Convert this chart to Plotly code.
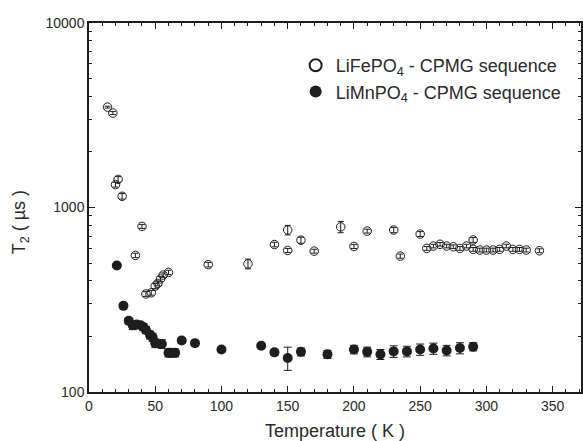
import plotly.graph_objects as go

# LiFePO4 - CPMG sequence (open circles)
fe_T = [14, 18, 20, 22, 25, 35, 40, 43, 47, 50, 52, 54, 56, 60, 90, 120, 140, 150, 150,
        160, 170, 190, 200, 210, 230, 235, 250,
        255, 260, 265, 270, 275, 280, 285, 290, 290, 295, 300, 305, 310, 315, 320, 325, 330, 340]
fe_T2 = [3500, 3250, 1330, 1420, 1150, 550, 790, 340, 345, 375, 388, 410, 430, 445, 490, 495, 630, 755, 585,
         665, 580, 785, 615, 745, 755, 545, 718,
         600, 618, 632, 618, 613, 600, 618, 667, 593, 588, 588, 588, 593, 618, 593, 593, 588, 583]
fe_err = [40, 60, 40, 50, 40, 15, 20, 10, 10, 12, 12, 12, 12, 12, 14, 30, 18, 45, 15,
          25, 14, 55, 16, 18, 25, 14, 22,
          14, 14, 14, 14, 14, 14, 14, 20, 14, 14, 14, 14, 14, 14, 14, 14, 14, 14]

# LiMnPO4 - CPMG sequence (filled circles)
mn_T = [21, 26, 30, 33, 36, 39, 41, 43, 46, 48, 50, 55, 60, 62, 65, 70, 80, 100, 130, 140,
        150, 160, 180, 200, 210, 220, 230, 240, 250, 260, 270, 280, 290]
mn_T2 = [485, 293, 243, 230, 232, 230, 225, 217, 204, 198, 184, 182, 163, 163, 163, 190, 184, 170, 178, 164,
         153, 165, 160, 170, 165, 160, 166, 166, 170, 172, 168, 173, 176]
mn_err = [8, 6, 8, 12, 8, 8, 10, 10, 10, 10, 10, 10, 8, 8, 8, 6, 5, 5, 5, 6,
          22, 8, 8, 9, 10, 10, 12, 11, 12, 12, 11, 12, 9]

x_ticks = [0, 50, 100, 150, 200, 250, 300, 350]
y_ticks = [100, 1000, 10000]
y_minor = [v * m for m in (100, 1000) for v in range(2, 10)]

INK = "#1e1e1e"
FONT = "Liberation Sans, Arial, sans-serif"

fig = go.Figure()
fig.add_trace(go.Scatter(
    x=fe_T, y=fe_T2, mode="markers",
    name="LiFePO<sub>4</sub> - CPMG sequence",
    marker=dict(symbol="circle-open", size=8.5, color=INK, line=dict(width=1, color=INK)),
    error_y=dict(type="data", array=fe_err, color=INK, thickness=1, width=3),
))
fig.add_trace(go.Scatter(
    x=mn_T, y=mn_T2, mode="markers",
    name="LiMnPO<sub>4</sub> - CPMG sequence",
    marker=dict(symbol="circle", size=10, color=INK),
    error_y=dict(type="data", array=mn_err, color=INK, thickness=1, width=4),
))

axis_common = dict(
    showline=True, linecolor=INK, linewidth=1.5, mirror="ticks",
    ticks="inside", ticklen=6, tickwidth=1.2, tickcolor=INK,
    showgrid=False, zeroline=False,
    tickfont=dict(family=FONT, size=14, color="#2a2a2a"),
)

fig.update_xaxes(
    range=[0, 371.4], tickmode="array", tickvals=x_ticks,
    minor=dict(dtick=10, tick0=0, ticks="inside", ticklen=3, tickcolor=INK, tickwidth=1),
    title=dict(text="Temperature ( K )", font=dict(family=FONT, size=18, color="#2a2a2a"), standoff=12),
    **axis_common,
)
fig.update_yaxes(
    type="log", range=[2, 4], tickmode="array", tickvals=y_ticks, ticktext=["100", "1000", "10000"],
    minor=dict(tickmode="array", tickvals=y_minor, ticks="inside", ticklen=3, tickcolor=INK, tickwidth=1),
    **axis_common,
)

fig.add_annotation(
    text="T<sub>2</sub> ( µs )", textangle=-90, showarrow=False,
    xref="paper", yref="paper", x=-0.1397, y=0.4607, xanchor="center", yanchor="middle",
    font=dict(family=FONT, size=18, color="#2a2a2a"),
)

fig.update_layout(
    width=583, height=441,
    margin=dict(l=89, r=0, t=23, b=49),
    plot_bgcolor="white", paper_bgcolor="white",
    showlegend=True,
    legend=dict(
        x=0.42, y=0.935, xanchor="left", yanchor="top",
        bgcolor="rgba(0,0,0,0)",
        font=dict(family=FONT, size=18, color="#2a2a2a"),
        itemsizing="constant", tracegroupgap=0,
    ),
)

fig.write_html("out.html")
